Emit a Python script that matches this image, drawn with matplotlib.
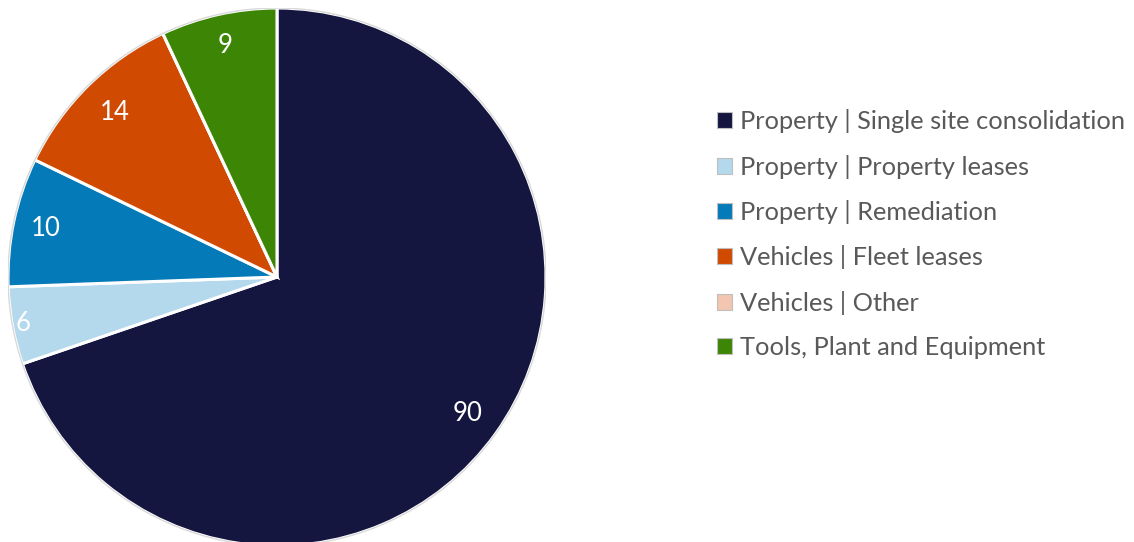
import numpy as np
import matplotlib.pyplot as plt
from matplotlib.patches import Patch, Circle

categories = ["Property | Single site consolidation", "Property | Property leases",
              "Property | Remediation", "Vehicles | Fleet leases",
              "Vehicles | Other", "Tools, Plant and Equipment"]
values = [90, 6, 10, 14, 0, 9]
colors = ["#141640", "#b4d8ec", "#047ab8", "#d04a02", "#f2c6b0", "#3c8505"]
label_dist = [0.87, 0.96, 0.88, 0.86, 0.87, 0.88]

plt.rcParams['font.family'] = ['Lato', 'DejaVu Sans']

fig = plt.figure(figsize=(11.34, 5.42), dpi=100)
ax = fig.add_axes([8 / 1134, -4 / 542, 538 / 1134, 538 / 542])

wedges, _ = ax.pie(values, colors=colors, startangle=90, counterclock=False,
                   wedgeprops=dict(edgecolor="white", linewidth=2.2))
ax.add_patch(Circle((0, 0), 1.0, fill=False, edgecolor="#d9d9d9", linewidth=1))

for w, v, d in zip(wedges, values, label_dist):
    if v == 0:
        continue
    mid = np.deg2rad((w.theta1 + w.theta2) / 2)
    ax.text(d * np.cos(mid), d * np.sin(mid), str(v), color="white",
            fontsize=18.5, ha="center", va="center")

ax.set_xlim(-1.0, 1.0)
ax.set_ylim(-1.0, 1.0)
ax.axis("off")

handles = [Patch(facecolor=c, edgecolor="#bfbfbf", linewidth=0.8) for c in colors]
fig.legend(handles, categories, loc="center left", bbox_to_anchor=(694 / 1134, 0.568),
           frameon=False, fontsize=18.3, labelcolor="#595959", handlelength=0.6,
           handleheight=0.6, handletextpad=0.3, labelspacing=0.84)

fig.savefig("out.png", dpi=100)
